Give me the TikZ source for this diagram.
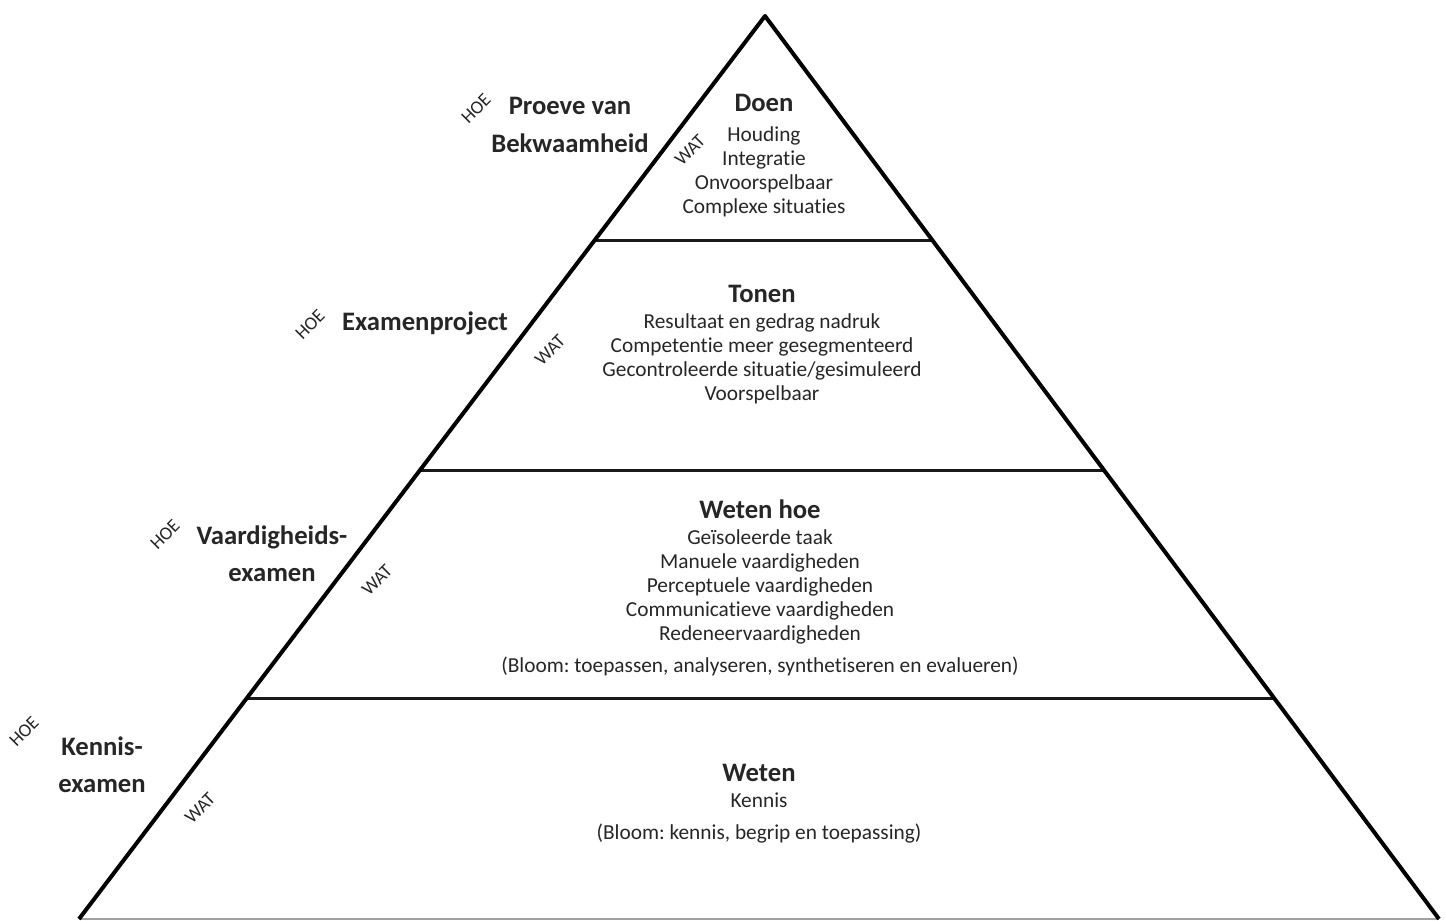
\documentclass[tikz,border=0pt]{standalone}
\usepackage{fontspec}
\setmainfont{Carlito}[Ligatures={NoCommon}]
\usepackage{xcolor}
\definecolor{ink}{HTML}{262626}
\definecolor{baseline}{HTML}{A0A0A0}
\usetikzlibrary{positioning, calc}
\frenchspacing

\begin{document}
\begin{tikzpicture}[
        x=0.75pt, y=-0.75pt,
        node distance=8pt,
        side_line/.style={draw=black, line width=3pt, line join=round},
        divider_line/.style={draw=black!90, line width=2.2pt},
        base_line/.style={draw=baseline, line width=1pt},
        title_text/.style={inner sep=0pt, text=ink, font=\bfseries\fontsize{20}{24}\selectfont},
        body_text/.style={inner sep=0pt, text=ink, align=center, font=\fontsize{16}{18}\selectfont},
        exam_text/.style={inner sep=0pt, text=ink, align=center, font=\bfseries\fontsize{20}{28}\selectfont},
        tag_text/.style={inner sep=0pt, text=ink, font=\fontsize{14}{16}\selectfont, rotate=45}
    ]
    \useasboundingbox (0,0) rectangle (1446,921);

    % Pyramid corners
    \coordinate (apex) at (765,16);
    \coordinate (bl) at (79,919);
    \coordinate (br) at (1439,919);

    % Layer dividers
    \foreach \t in {0.249, 0.503, 0.756}
        \draw[divider_line] ($(apex)!\t!(bl)$) -- ($(apex)!\t!(br)$);

    % Outline
    \draw[base_line] (bl) -- (br);
    \draw[side_line] (bl) -- (apex) -- (br);

    % Layer 1: Doen
    \node[title_text] (doen) at (764,103) {Doen};
    \node[body_text, below=11pt of doen] (doen_body) {Houding\\Integratie\\Onvoorspelbaar\\Complexe situaties};

    % Layer 2: Tonen
    \node[title_text] (tonen) at (762,294) {Tonen};
    \node[body_text, below=of tonen] (tonen_body) {Resultaat en gedrag nadruk\\Competentie meer gesegmenteerd\\Gecontroleerde situatie/gesimuleerd\\Voorspelbaar};

    % Layer 3: Weten hoe
    \node[title_text] (weten_hoe) at (760,509) {Weten hoe};
    \node[body_text, below=of weten_hoe] (weten_hoe_body) {Geïsoleerde taak\\Manuele vaardigheden\\Perceptuele vaardigheden\\Communicatieve vaardigheden\\Redeneervaardigheden\\[6pt](Bloom: toepassen, analyseren, synthetiseren en evalueren)};

    % Layer 4: Weten
    \node[title_text] (weten) at (759,773) {Weten};
    \node[body_text, below=of weten] (weten_body) {Kennis\\[6pt](Bloom: kennis, begrip en toepassing)};

    % Exam forms (HOE)
    \node[exam_text] (pvb) at (570,125) {Proeve van\\Bekwaamheid};
    \node[exam_text] (project) at (425,323) {Examenproject};
    \node[exam_text] (vaardig) at (272,554) {Vaardigheids-\\examen};
    \node[exam_text] (kennis) at (102,765) {Kennis-\\examen};

    \node[tag_text] (hoe_pvb) at (476,109) {HOE};
    \node[tag_text] (hoe_project) at (310,325) {HOE};
    \node[tag_text] (hoe_vaardig) at (165,535) {HOE};
    \node[tag_text] (hoe_kennis) at (24,732) {HOE};

    % Content labels (WAT)
    \node[tag_text] (wat_doen) at (690,150) {WAT};
    \node[tag_text] (wat_tonen) at (550,350) {WAT};
    \node[tag_text] (wat_weten_hoe) at (377,580) {WAT};
    \node[tag_text] (wat_weten) at (200,808) {WAT};

\end{tikzpicture}
\end{document}
